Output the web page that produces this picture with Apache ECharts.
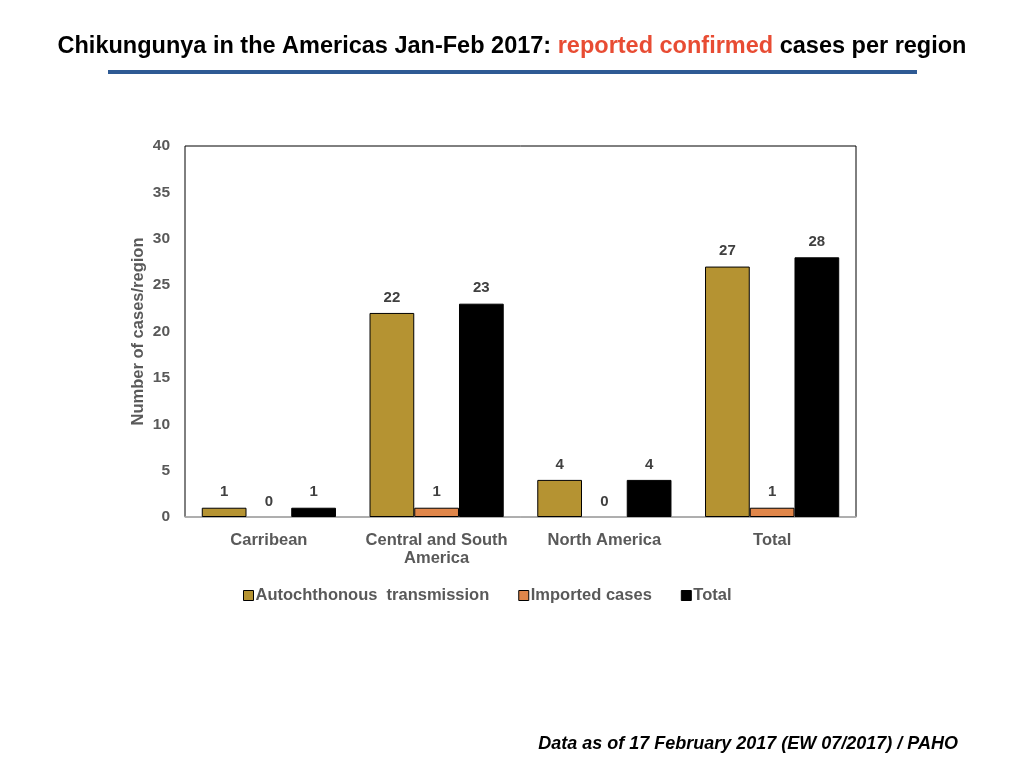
<!DOCTYPE html>
<html>
<head>
<meta charset="utf-8">
<script src="https://cdn.jsdelivr.net/npm/echarts@6/dist/echarts.min.js"></script>
<style>
  html, body { margin: 0; padding: 0; background: #fff; }
</style>
</head>
<body>
<div id="main" style="width: 1024px;height:768px;"></div>
<script type="text/javascript">
    var regions = ['Carribean', 'Central and South\nAmerica', 'North America', 'Total'];
    var autochthonous = [1, 22, 4, 27];
    var imported = [0, 1, 0, 1];
    var totals = [1, 23, 4, 28];
    var seriesNames = ['Autochthonous  transmission', 'Imported cases', 'Total'];

    var myChart = echarts.init(document.getElementById('main'));

    // zero-height bars get no outline, only the "0" label
    function toItems(arr) {
        return arr.map(function (v) {
            return v === 0 ? { value: v, itemStyle: { borderWidth: 0, color: 'rgba(0,0,0,0)' } } : v;
        });
    }

    var labelStyle = {
        show: true,
        position: 'top',
        distance: 8,
        color: '#404040',
        fontSize: 15,
        fontWeight: 'bold',
        fontFamily: 'Liberation Sans'
    };

    var option = {
        backgroundColor: '#fff',
        textStyle: { fontFamily: 'Liberation Sans' },
        title: [{
            text: '{a|Chikungunya in the Americas Jan-Feb 2017: }{b|reported confirmed}{a| cases per region}',
            left: 'center',
            top: 30,
            textStyle: {
                rich: {
                    a: { fontSize: 23.5, fontWeight: 'bold', color: '#000', fontFamily: 'Liberation Sans' },
                    b: { fontSize: 23.5, fontWeight: 'bold', color: '#E84C33', fontFamily: 'Liberation Sans' }
                }
            }
        }, {
            text: 'Data as of 17 February 2017 (EW 07/2017) / PAHO',
            right: 61,
            top: 730,
            textStyle: { fontSize: 18, fontWeight: 'bold', fontStyle: 'italic', color: '#000', fontFamily: 'Liberation Sans' }
        }],
        graphic: [{
            type: 'rect',
            shape: { x: 108, y: 70, width: 809, height: 4 },
            style: { fill: '#2E5A94' }
        }],
        legend: {
            data: seriesNames,
            top: 582,
            left: 238,
            icon: 'rect',
            itemWidth: 10,
            itemHeight: 10,
            itemGap: 29,
            itemStyle: { borderColor: '#000', borderWidth: 1 },
            textStyle: { color: '#595959', fontSize: 16.5, fontWeight: 'bold', padding: [0, 0, 0, -3] }
        },
        grid: {
            left: 185,
            right: 168,
            top: 146,
            bottom: 251,
            show: true,
            borderColor: '#000',
            borderWidth: 1
        },
        xAxis: {
            type: 'category',
            data: regions,
            axisTick: { show: false },
            axisLine: { lineStyle: { color: '#bfbfbf', width: 1.5 } },
            axisLabel: {
                interval: 0,
                color: '#595959',
                fontSize: 16.5,
                fontWeight: 'bold',
                margin: 14,
                lineHeight: 18
            }
        },
        yAxis: {
            type: 'value',
            min: 0,
            max: 40,
            interval: 5,
            name: 'Number of cases/region',
            nameLocation: 'middle',
            nameGap: 38,
            nameMoveOverlap: false,
            nameTextStyle: { color: '#595959', fontSize: 16.5, fontWeight: 'bold' },
            splitLine: { show: false },
            axisLine: { show: false },
            axisTick: { show: false },
            axisLabel: { color: '#595959', fontSize: 15.5, fontWeight: 'bold', margin: 15 }
        },
        series: [{
            name: seriesNames[0],
            type: 'bar',
            data: toItems(autochthonous),
            barGap: '0%',
            barCategoryGap: '20%',
            itemStyle: { color: '#B59332', borderColor: '#000', borderWidth: 1 },
            label: labelStyle
        }, {
            name: seriesNames[1],
            type: 'bar',
            data: toItems(imported),
            itemStyle: { color: '#E0864A', borderColor: '#000', borderWidth: 1 },
            label: labelStyle
        }, {
            name: seriesNames[2],
            type: 'bar',
            data: toItems(totals),
            itemStyle: { color: '#000', borderColor: '#000', borderWidth: 1 },
            label: labelStyle
        }]
    };

    myChart.setOption(option);
</script>
</body>
</html>
